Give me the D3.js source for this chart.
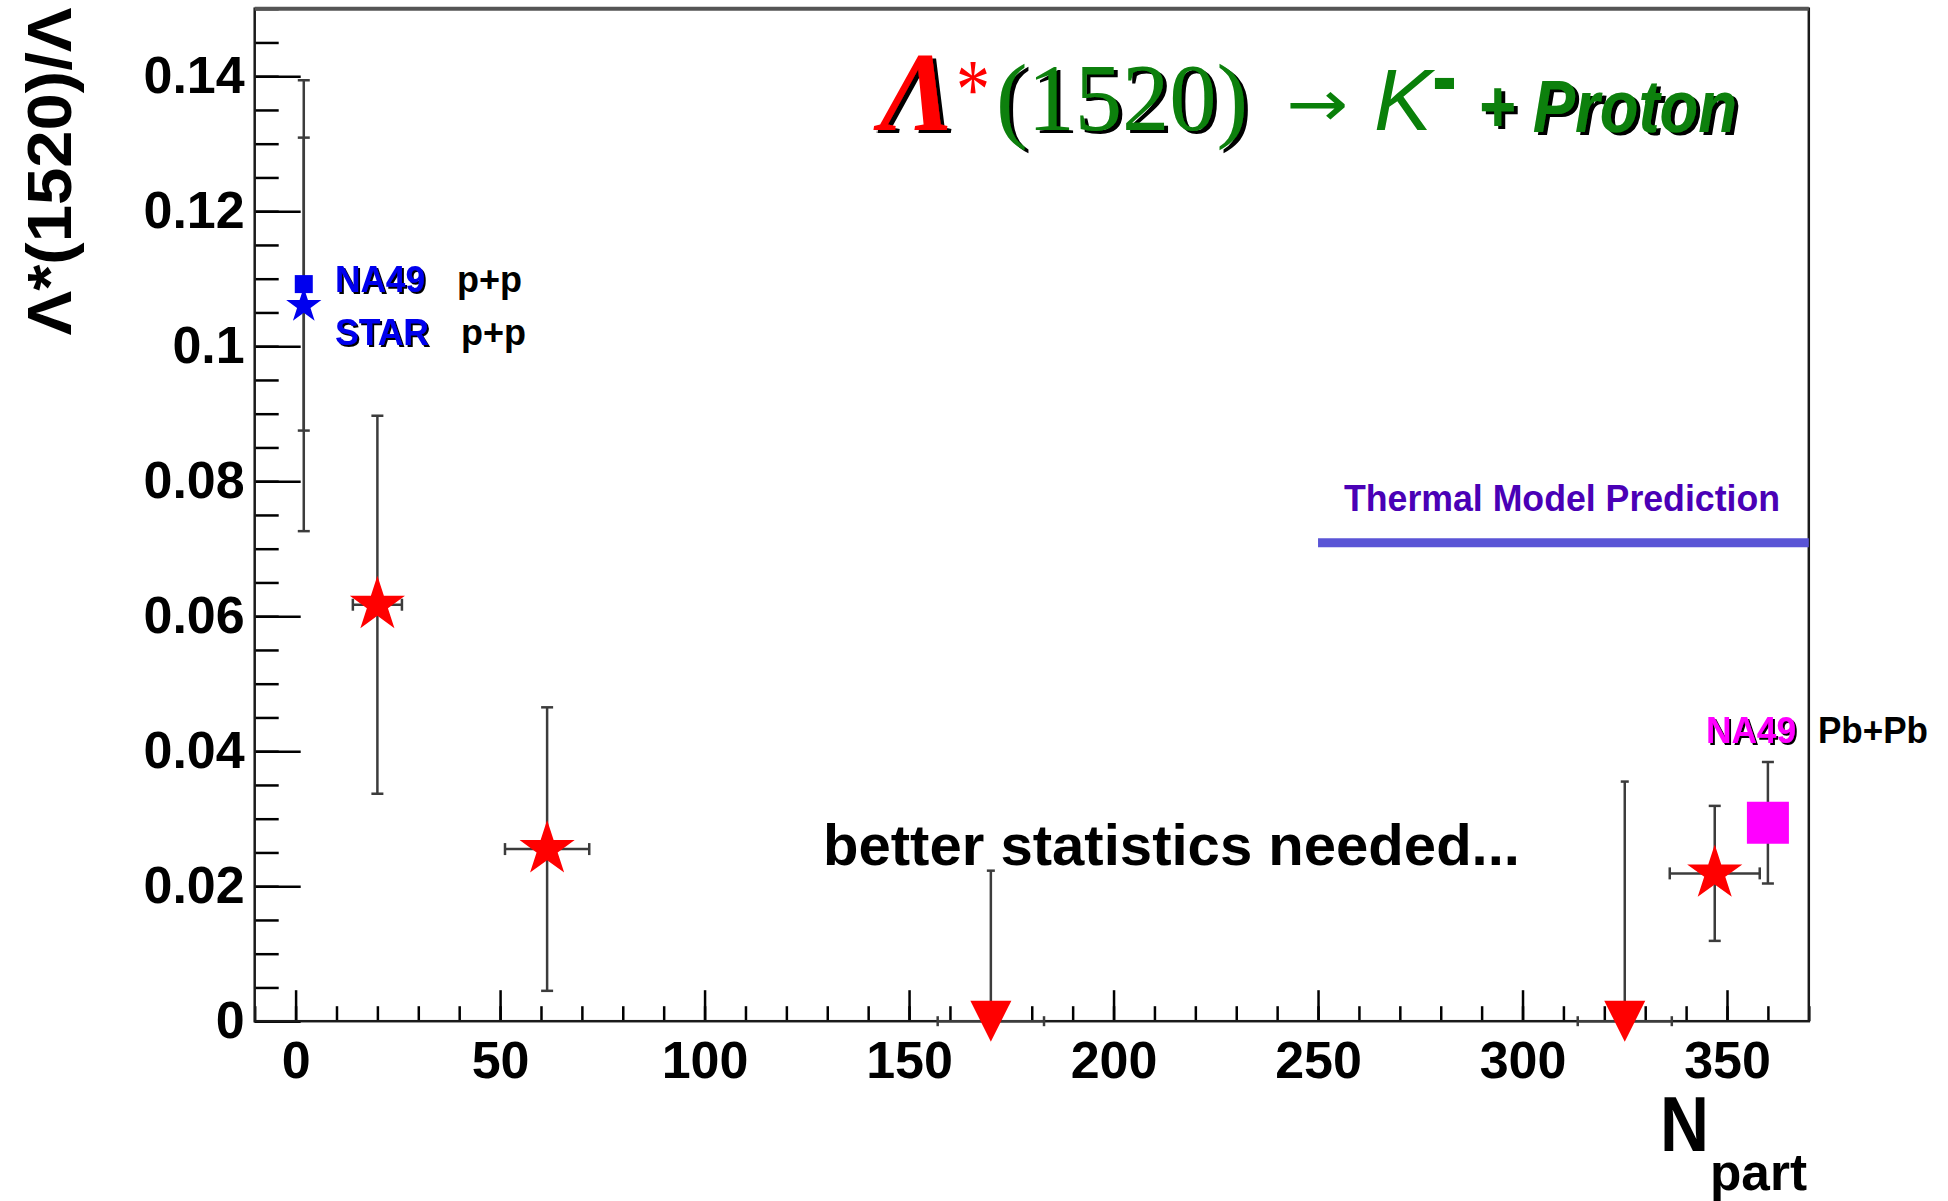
<!DOCTYPE html>
<html lang="en">
<head>
<meta charset="utf-8">
<title>Lambda*(1520)/Lambda vs Npart</title>
<script src="https://cdn.jsdelivr.net/npm/d3@7/dist/d3.min.js"></script>
<style>
  body { margin: 0; background: #fff; }
  svg { display: block; }
</style>
</head>
<body>
<script>
// values
var starNpart = [20, 61.5, 347];
var starRatio = [0.0617, 0.0255, 0.0219];
var starErr = [0.028, 0.021, 0.010];
var starNErr = [6, 10.3, 11];

// upper limits (red triangles sitting on zero)
var limitNpart = [170, 325];
var limitRatio = [0.0223, 0.0355];
var limitNErr = [13, 11.5];

// p+p references: NA49 (square), STAR (star)
var ppLabels = ["NA49", "STAR"];
var ppNpart = [2, 2];
var ppRatio = [0.1092, 0.1060];
var ppErr = [0.0217, 0.0334];

// NA49 Pb+Pb
var pbNpart = [360];
var pbRatio = [0.0294];
var pbErr = [0.009];

var thermalNpart = [250, 370];
var thermalRatio = 0.0709;

var xTicks = [0, 50, 100, 150, 200, 250, 300, 350];
var yTicks = [0, 0.02, 0.04, 0.06, 0.08, 0.1, 0.12, 0.14];
var yTickLabels = ["0", "0.02", "0.04", "0.06", "0.08", "0.1", "0.12", "0.14"];

var W = 1948, H = 1201;
var L = 254.7, R = 1808.8, T = 8.7, B = 1021.2;
var SANS = "'Liberation Sans', Arial, Helvetica, sans-serif";
var SERIF = "'Liberation Serif', 'Times New Roman', serif";
var ERR = "#3c3c3c";

var x = d3.scaleLinear().domain([-10, 370]).range([L, R]);
var y = d3.scaleLinear().domain([0, 0.15]).range([B, T]);

var svg = d3.select("body").append("svg")
    .attr("width", W)
    .attr("height", H)
    .style("background", "#fff");

// hard black drop shadows for the coloured labels
var defs = svg.append("defs");
[["sh3", 3.5, 3], ["sh1", 1.5, 1.5]].forEach(function(s) {
  var f = defs.append("filter").attr("id", s[0])
      .attr("x", "-10%").attr("y", "-20%").attr("width", "130%").attr("height", "150%");
  f.append("feFlood").attr("flood-color", "#000");
  f.append("feComposite").attr("in2", "SourceAlpha").attr("operator", "in");
  f.append("feOffset").attr("dx", s[1]).attr("dy", s[2]).attr("result", "sh");
  var m = f.append("feMerge");
  m.append("feMergeNode").attr("in", "sh");
  m.append("feMergeNode").attr("in", "SourceGraphic");
});

function styleAxis(g) {
  g.select(".domain").remove();
  g.selectAll("line").attr("stroke", "#000").attr("stroke-width", 2.5);
  g.attr("font-family", SANS).attr("font-size", 52).attr("font-weight", "bold");
  g.selectAll("text").attr("fill", "#000");
}

// x axis: minor every 10, major every 50, ticks pointing inside
svg.append("g").attr("transform", "translate(0," + B + ")")
    .call(d3.axisBottom(x).tickValues(x.ticks(38)).tickSize(-15).tickSizeOuter(0).tickFormat(""))
    .call(styleAxis);
svg.append("g").attr("transform", "translate(0," + B + ")")
    .call(d3.axisBottom(x).tickValues(xTicks).tickSize(-31).tickSizeOuter(0).tickPadding(20).tickFormat(d3.format("d")))
    .call(styleAxis);

// y axis
svg.append("g").attr("transform", "translate(" + L + ",0)")
    .call(d3.axisLeft(y).tickValues(y.ticks(30)).tickSize(-24).tickSizeOuter(0).tickFormat(""))
    .call(styleAxis);
svg.append("g").attr("transform", "translate(" + L + ",0)")
    .call(d3.axisLeft(y).tickValues(yTicks).tickSize(-46).tickSizeOuter(0).tickPadding(10)
      .tickFormat(function(d, i) { return yTickLabels[i]; }))
    .call(styleAxis);

// frame
svg.append("rect")
    .attr("x", L).attr("y", T)
    .attr("width", R - L).attr("height", B - T)
    .attr("fill", "none").attr("stroke", "#1a1a1a").attr("stroke-width", 2.5);
svg.append("line")
    .attr("x1", L).attr("x2", R).attr("y1", T).attr("y2", T)
    .attr("stroke", "#555").attr("stroke-width", 4);

// axis titles
svg.append("text")
    .attr("transform", "translate(71,7.5) rotate(-90)")
    .attr("text-anchor", "end")
    .attr("font-family", SANS).attr("font-weight", "bold").attr("font-size", 63)
    .attr("textLength", 328).attr("lengthAdjust", "spacingAndGlyphs")
    .text("Λ*(1520)/Λ");
svg.append("text")
    .attr("x", 1660).attr("y", 1151)
    .attr("font-family", SANS).attr("font-weight", "bold").attr("font-size", 78)
    .attr("textLength", 49).attr("lengthAdjust", "spacingAndGlyphs")
    .text("N");
svg.append("text")
    .attr("x", 1710).attr("y", 1190)
    .attr("font-family", SANS).attr("font-weight", "bold").attr("font-size", 52)
    .attr("textLength", 97).attr("lengthAdjust", "spacingAndGlyphs")
    .text("part");

// thermal model line
svg.append("line")
    .attr("x1", x(thermalNpart[0])).attr("x2", x(thermalNpart[1]))
    .attr("y1", y(thermalRatio)).attr("y2", y(thermalRatio))
    .attr("stroke", "#5a55d6").attr("stroke-width", 9);

// error bar helpers
var eb = svg.append("g").attr("stroke", ERR).attr("stroke-width", 2.5).attr("fill", "none");
function vbar(xv, lo, hi) {
  var px = x(xv);
  eb.append("line").attr("x1", px).attr("x2", px).attr("y1", y(lo)).attr("y2", y(hi));
  [lo, hi].forEach(function(v) {
    eb.append("line").attr("x1", px - 6).attr("x2", px + 6).attr("y1", y(v)).attr("y2", y(v));
  });
}
function hbar(yv, lo, hi, cap) {
  var py = y(yv);
  eb.append("line").attr("x1", x(lo)).attr("x2", x(hi)).attr("y1", py).attr("y2", py);
  [lo, hi].forEach(function(v) {
    eb.append("line").attr("x1", x(v)).attr("x2", x(v)).attr("y1", py - cap).attr("y2", py + cap);
  });
}

starNpart.forEach(function(n, i) {
  vbar(n, starRatio[i] - starErr[i], starRatio[i] + starErr[i]);
  hbar(starRatio[i], n - starNErr[i], n + starNErr[i], 6);
});
ppNpart.forEach(function(n, i) {
  vbar(n, ppRatio[i] - ppErr[i], ppRatio[i] + ppErr[i]);
});
pbNpart.forEach(function(n, i) {
  vbar(n, pbRatio[i] - pbErr[i], pbRatio[i] + pbErr[i]);
});
limitNpart.forEach(function(n, i) {
  var px = x(n);
  eb.append("line").attr("x1", px).attr("x2", px).attr("y1", y(0)).attr("y2", y(limitRatio[i]));
  eb.append("line").attr("x1", px - 4).attr("x2", px + 4).attr("y1", y(limitRatio[i])).attr("y2", y(limitRatio[i]));
  hbar(0, n - limitNErr[i], n + limitNErr[i], 5);
});

// markers
var bigStar = d3.symbol().type(d3.symbolStar).size(29 * 29 / 0.8908);
svg.selectAll(".bigstar").data(starNpart).enter().append("path")
    .attr("class", "bigstar")
    .attr("transform", function(d, i) { return "translate(" + x(d) + "," + y(starRatio[i]) + ")"; })
    .attr("d", bigStar)
    .attr("fill", "#ff0000");

svg.selectAll(".limit").data(limitNpart).enter().append("path")
    .attr("class", "limit")
    .attr("transform", function(d) { return "translate(" + x(d) + "," + y(0) + ")"; })
    .attr("d", "M-20.5,-20.5L20.5,-20.5L0,20.5Z")
    .attr("fill", "#ff0000");

// NA49 p+p square, STAR p+p star
svg.append("rect")
    .attr("x", x(ppNpart[0]) - 9).attr("y", y(ppRatio[0]) - 9)
    .attr("width", 18).attr("height", 18)
    .attr("fill", "#0000ee");
svg.append("path")
    .attr("transform", "translate(" + x(ppNpart[1]) + "," + y(ppRatio[1]) + ")")
    .attr("d", d3.symbol().type(d3.symbolStar).size(18.5 * 18.5 / 0.8908))
    .attr("fill", "#0000ee");

// NA49 Pb+Pb square
svg.selectAll(".pb").data(pbNpart).enter().append("rect")
    .attr("class", "pb")
    .attr("x", function(d) { return x(d) - 21; })
    .attr("y", function(d, i) { return y(pbRatio[i]) - 21; })
    .attr("width", 42).attr("height", 42)
    .attr("fill", "#ff00ff");

// text helper
function label(txt, px, py, o) {
  var t = svg.append("text")
      .attr("x", px).attr("y", py)
      .attr("font-family", o.family || SANS)
      .attr("font-size", o.size)
      .attr("font-weight", o.weight || "bold")
      .attr("font-style", o.style || "normal")
      .attr("fill", o.color)
      .text(txt);
  if (o.len) t.attr("textLength", o.len).attr("lengthAdjust", "spacingAndGlyphs");
  if (o.shadow) t.attr("filter", "url(#" + o.shadow + ")");
  return t;
}

// big reaction label
label("Λ", 880, 130, {family: SERIF, size: 112, style: "italic", color: "#ff0000", shadow: "sh3"});
label("*", 956, 118, {family: SERIF, size: 84, weight: "normal", color: "#ff0000", len: 34});
label("(1520)", 996, 130, {family: SERIF, size: 96, weight: "normal", color: "#0a800a", shadow: "sh3", len: 252});
label("→", 1286, 126, {family: "'DejaVu Sans', sans-serif", size: 64, weight: "normal", color: "#0a800a", len: 62});
label("K", 1374, 130, {size: 87, weight: "normal", style: "italic", color: "#0a800a"});
label("-", 1432, 108, {size: 92, color: "#0a800a", len: 25});
label("+ Proton", 1478, 132, {size: 74, style: "italic", color: "#0a800a", shadow: "sh3", len: 259});

// annotations
ppLabels.forEach(function(s, i) {
  var by = [292, 345][i];
  label(s, 335, by, {size: 36, color: "#0000ee", shadow: "sh1", len: [90, 94][i]});
  label("p+p", [457, 461][i], by, {size: 36, color: "#000"});
});
label("Thermal Model Prediction", 1344, 511, {size: 36, color: "#4a00b6", len: 436});
label("NA49", 1706, 743, {size: 36, color: "#ff00ff", shadow: "sh1", len: 90});
label("Pb+Pb", 1818, 743, {size: 36, color: "#000", len: 110});
label("better statistics needed...", 823, 865, {size: 58, color: "#000", len: 697});
</script>
</body>
</html>
